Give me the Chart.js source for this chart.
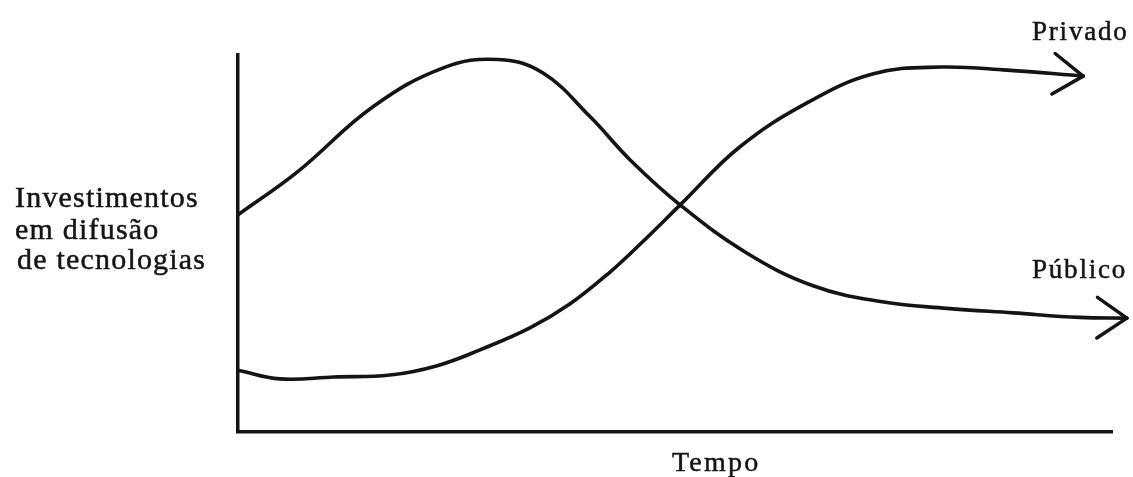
<!DOCTYPE html>
<html lang="pt">
<head>
<meta charset="utf-8">
<title>Investimentos em difusão de tecnologias</title>
<script src="https://cdn.jsdelivr.net/npm/chart.js@4.4.1/dist/chart.umd.min.js"></script>
<style>
  html, body { margin: 0; padding: 0; background: #fff; }
  .wrap { position: relative; width: 1133px; height: 477px; }
</style>
</head>
<body>
<div class="wrap"><canvas id="difusao"></canvas></div>
<script>
// time runs 0..100 along the axis, investment 0..100 up the axis
const publicoTempo = [0, 6.8, 15.4, 23.5, 29.8, 34.9, 40.3, 44.9, 50.6, 58.2, 65.8, 73.5, 81.1, 88.7, 96.3, 101.7];
const publicoValor = [57.6, 69.0, 86.2, 96.6, 98.8, 95.2, 83.6, 72.1, 60.2, 47.5, 38.8, 34.6, 32.8, 31.6, 30.4, 30.2];
const privadoTempo = [0, 4.8, 11.0, 17.4, 22.8, 27.7, 33.4, 38.0, 42.6, 46.0, 50.8, 57.4, 65.1, 72.7, 80.3, 88.0, 96.7];
const privadoValor = [16.4, 14.1, 14.6, 15.1, 17.6, 21.8, 27.6, 34.0, 42.5, 49.8, 60.7, 75.6, 87.3, 95.0, 96.8, 96.0, 94.4];
const seriesNomes = ['Público', 'Privado'];
const eixoY = ['Investimentos', 'em difusão', 'de tecnologias'];
const eixoX = 'Tempo';

const ink = '#141414';
const toPoints = (xs, ys) => xs.map((x, i) => ({ x, y: ys[i] }));

function printText(ctx, text, x, y) {
  ctx.fillText(text, x, y);
  ctx.strokeText(text, x, y);
}

const sketchLabels = {
  id: 'sketchLabels',
  afterDatasetsDraw(chart) {
    const { ctx, chartArea: area } = chart;
    ctx.save();
    ctx.strokeStyle = ink;
    ctx.lineWidth = 3.5;
    ctx.lineCap = 'round';
    // open arrowheads at the end of each curve
    chart.data.datasets.forEach((ds, i) => {
      const pts = chart.getDatasetMeta(i).data;
      const tip = pts[pts.length - 1];
      const prev = pts[pts.length - 2];
      const ang = Math.atan2(tip.y - prev.y, tip.x - prev.x);
      [0.6, -0.6].forEach((spread) => {
        ctx.beginPath();
        ctx.moveTo(tip.x, tip.y);
        ctx.lineTo(tip.x - 36 * Math.cos(ang + spread), tip.y - 36 * Math.sin(ang + spread));
        ctx.stroke();
      });
    });

    ctx.fillStyle = ink;
    ctx.lineWidth = 0.5;
    ctx.textBaseline = 'alphabetic';
    ctx.textAlign = 'left';
    ctx.letterSpacing = '1.8px';
    ctx.font = '27px "Liberation Serif", "Times New Roman", serif';
    printText(ctx, seriesNomes[1], area.right - 80, 40);
    printText(ctx, seriesNomes[0], area.right - 80, 278);

    ctx.letterSpacing = '1.2px';
    ctx.font = '30px "Liberation Serif", "Times New Roman", serif';
    printText(ctx, eixoY[0], 15, 207);
    printText(ctx, eixoY[1], 15, 239);
    printText(ctx, eixoY[2], 17, 269);

    ctx.letterSpacing = '2.2px';
    ctx.font = '28px "Liberation Serif", "Times New Roman", serif';
    printText(ctx, eixoX, 672, 471);
    ctx.restore();
  }
};

const lineStyle = { borderColor: ink, borderWidth: 3.6, pointRadius: 0, fill: false, clip: false, tension: 0.4 };

new Chart(document.getElementById('difusao'), {
  type: 'line',
  data: {
    datasets: [
      { label: seriesNomes[0], data: toPoints(publicoTempo, publicoValor), ...lineStyle },
      { label: seriesNomes[1], data: toPoints(privadoTempo, privadoValor), ...lineStyle }
    ]
  },
  options: {
    responsive: true,
    maintainAspectRatio: false,
    animation: false,
    layout: { padding: { left: 238, right: 21, top: 55, bottom: 45 } },
    elements: { line: { capBezierPoints: false, borderCapStyle: 'round', borderJoinStyle: 'round' } },
    plugins: { legend: { display: false }, tooltip: { enabled: false } },
    scales: {
      x: {
        type: 'linear', min: 0, max: 100,
        grid: { display: false, drawTicks: false },
        border: { display: true, color: ink, width: 3.5 },
        ticks: { display: false }
      },
      y: {
        type: 'linear', min: 0, max: 100,
        grid: { display: false, drawTicks: false },
        border: { display: true, color: ink, width: 3.5 },
        ticks: { display: false }
      }
    }
  },
  plugins: [sketchLabels]
});
</script>
</body>
</html>
